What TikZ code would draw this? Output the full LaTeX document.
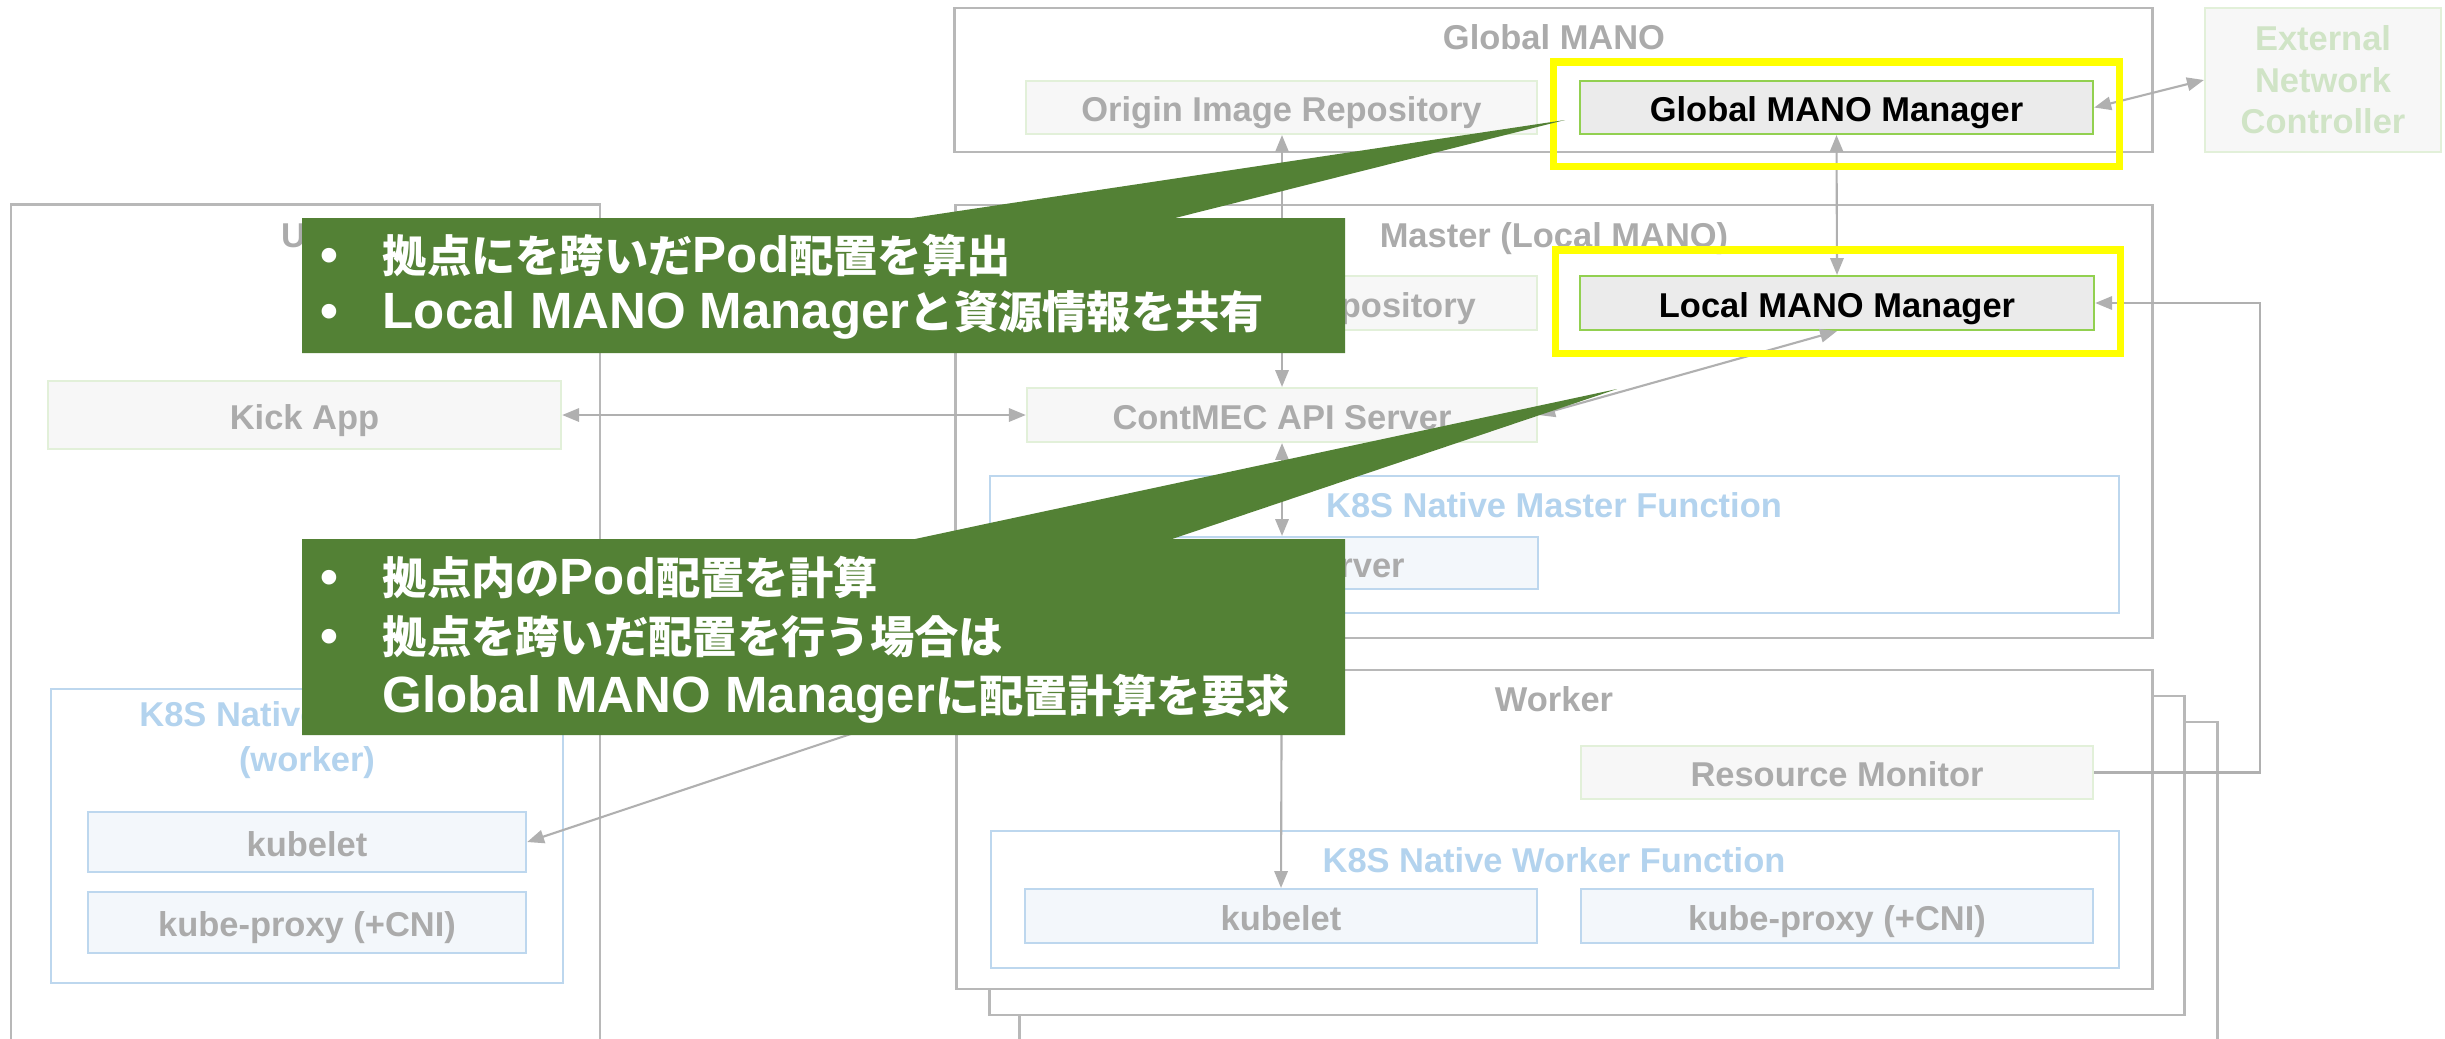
\documentclass[tikz,border=0pt]{standalone}
\usepackage{fontspec}
\setmainfont{Liberation Sans}
\newfontfamily\jpfont{Noto Sans CJK JP}
\usetikzlibrary{arrows.meta}
\definecolor{frameg}{HTML}{B8B8B8}
\definecolor{linegray}{HTML}{B0B0B0}
\definecolor{txtgray}{HTML}{ABABAB}
\definecolor{itemfill}{HTML}{F7F7F7}
\definecolor{itemborder}{HTML}{E2F0D9}
\definecolor{mgrfill}{HTML}{EBEBEB}
\definecolor{mgrborder}{HTML}{92D050}
\definecolor{blueb}{HTML}{BDD7EE}
\definecolor{bluefill}{HTML}{F3F7FB}
\definecolor{bluetxt}{HTML}{B3D3EE}
\definecolor{exttxt}{HTML}{D0E4C6}
\definecolor{hlyellow}{HTML}{FFFF00}
\definecolor{callgreen}{HTML}{538135}
\newcommand{\J}[1]{{\jpfont\fontsize{12.6}{15}\selectfont #1}}
\tikzset{
  outer/.style={draw=frameg, line width=0.75pt, fill=white, inner sep=0pt},
  lbl/.style={text height=0.8em, text depth=0pt},
  item/.style={draw=itemborder, line width=0.6pt, fill=itemfill, text=txtgray, inner sep=0pt, lbl},
  mgr/.style={draw=mgrborder, line width=0.6pt, fill=mgrfill, text=black, inner sep=0pt, lbl},
  kbox/.style={draw=blueb, line width=0.6pt, fill=white, inner sep=0pt},
  kitem/.style={draw=blueb, line width=0.6pt, fill=bluefill, text=txtgray, inner sep=0pt, lbl},
  ttl/.style={text=txtgray, inner sep=0pt, text height=0.72em, text depth=0pt},
  ktitle/.style={text=bluetxt, inner sep=0pt, align=center},
  hl/.style={draw=hlyellow, line width=2pt, inner sep=0pt},
  conn/.style={draw=linegray, line width=0.6pt},
  tip/.tip={Triangle[length=4.8pt,width=3.8pt]},
  bi/.style={conn, tip-tip},
  uni/.style={conn, -tip},
  callout/.style={fill=callgreen},
  ctext/.style={text=white, inner sep=0pt, font=\bfseries\fontsize{14.5}{17}\selectfont},
}
\begin{document}
\begin{tikzpicture}[x=0.01cm, y=-0.01cm, font=\bfseries\fontsize{9.8}{11.8}\selectfont]
\clip (0,0) rectangle (2445,1038);
\fill[white] (0,0) rectangle (2445,1038);

% ---------- Global MANO ----------
\node[outer, minimum width=11.97cm, minimum height=1.44cm] (gm) at (1553.5,80) {};
\node[ttl] (gmt) at (1554,37) {Global MANO};
\node[item, minimum width=5.11cm, minimum height=0.53cm] (oir) at (1281.5,107.5) {Origin Image Repository};
\node[mgr, minimum width=5.13cm, minimum height=0.53cm] (gmm) at (1836.5,107.5) {Global MANO Manager};
\node[draw=itemborder, line width=0.6pt, fill=itemfill, inner sep=0pt, minimum width=2.36cm, minimum height=1.44cm] (enc) at (2323,80) {};
\node[text=exttxt, align=center, inner sep=0pt, font=\bfseries\fontsize{9.8}{11.8}\selectfont] (enct) at (2323,80) {External\\Network\\Controller};

% ---------- UE ----------
\node[outer, minimum width=5.89cm, minimum height=8.60cm] (ue) at (305.5,635) {};
\node[ttl] (uet) at (305,235) {UE};
\node[item, minimum width=5.13cm, minimum height=0.68cm] (kick) at (304.5,415) {Kick App};
\node[kbox, minimum width=5.12cm, minimum height=2.94cm] (uk8s) at (307,836) {};
\node[ktitle, font=\bfseries\fontsize{9.8}{12.6}\selectfont] (uk8st) at (307,740) {K8S Native Function\\(worker)};
\node[kitem, minimum width=4.38cm, minimum height=0.60cm] (ukub) at (307,842) {kubelet};
\node[kitem, minimum width=4.38cm, minimum height=0.61cm] (ukp) at (307,922.5) {kube-proxy (+CNI)};

% ---------- Master ----------
\node[outer, minimum width=11.96cm, minimum height=4.33cm] (ms) at (1554,421.5) {};
\node[ttl] (mst) at (1554,235) {Master (Local MANO)};
\node[item, minimum width=5.11cm, minimum height=0.54cm] (lir) at (1281.5,303) {Local Image Repository};
\node[mgr, minimum width=5.14cm, minimum height=0.54cm] (lmm) at (1837,303) {Local MANO Manager};
\node[item, minimum width=5.10cm, minimum height=0.54cm] (api) at (1282,415) {ContMEC API Server};
\node[kbox, minimum width=11.29cm, minimum height=1.37cm] (k8sm) at (1554.5,544.5) {};
\node[ktitle] (k8smt) at (1554,505) {K8S Native Master Function};
\node[kitem, minimum width=5.12cm, minimum height=0.52cm] (kapi) at (1282,563) {kube-apiserver};

% ---------- Workers ----------
\node[outer, minimum width=11.97cm, minimum height=3.40cm] (w3) at (1618.5,892) {};
\node[outer, minimum width=11.94cm, minimum height=3.19cm] (w2) at (1587,855.5) {};
\node[outer, minimum width=11.95cm, minimum height=3.19cm] (w1) at (1554.5,829.5) {};
\node[ttl] (w1t) at (1554,699) {Worker};
\node[item, minimum width=5.12cm, minimum height=0.53cm] (rm) at (1837,772.5) {Resource Monitor};
\node[kbox, minimum width=11.28cm, minimum height=1.37cm] (k8sw) at (1555,899.5) {};
\node[ktitle] (k8swt) at (1554,860) {K8S Native Worker Function};
\node[kitem, minimum width=5.12cm, minimum height=0.54cm] (wkub) at (1281,916) {kubelet};
\node[kitem, minimum width=5.12cm, minimum height=0.54cm] (wkp) at (1837,916) {kube-proxy (+CNI)};

% ---------- connectors ----------
\draw[bi] (gmm.east) -- (enc.west);
\draw[bi] (oir.south -| api.north) -- (api.north);
\draw[bi] (gmm.south) -- (lmm.north);
\draw[bi] (lmm.south) -- (api.east);
\draw[bi] (kick.east) -- (api.west);
\draw[bi] (api.south) -- (kapi.north);
\draw[uni] (kapi.south) -- (wkub.north);
\draw[uni] (kapi.south) -- (ukub.east);
\coordinate (rmc) at (2260,772.5);
\draw[uni] (rm.east) -- (rmc) |- (lmm.east);

% ---------- highlights ----------
\node[hl, minimum width=5.65cm, minimum height=1.04cm] (ygm) at (1836.5,114) {};
\node[hl, minimum width=5.64cm, minimum height=1.03cm] (ylm) at (1838,301.5) {};

% ---------- callouts ----------
\fill[callout] (302,218) -- (912,218) -- (1565,120) -- (1175,218) -- (1345,218) -- (1345,353) -- (302,353) -- cycle;
\node[ctext, anchor=base] (c1b1) at (329,272) {•};
\node[ctext, anchor=base west] (c1l1) at (382,272) {\J{拠点にを跨いだ}Pod\J{配置を算出}};
\node[ctext, anchor=base] (c1b2) at (329,328) {•};
\node[ctext, anchor=base west] (c1l2) at (382,328) {Local MANO Manager\J{と資源情報を共有}};

\fill[callout] (302,539) -- (915,539) -- (1617,389) -- (1172,539) -- (1345,539) -- (1345,735) -- (302,735) -- cycle;
\node[ctext, anchor=base] (c2b1) at (329,594) {•};
\node[ctext, anchor=base west] (c2l1) at (382,594) {\J{拠点内の}Pod\J{配置を計算}};
\node[ctext, anchor=base] (c2b2) at (329,653) {•};
\node[ctext, anchor=base west] (c2l2) at (382,653) {\J{拠点を跨いだ配置を行う場合は}};
\node[ctext, anchor=base west] (c2l3) at (382,712) {Global MANO Manager\J{に配置計算を要求}};
\end{tikzpicture}
\end{document}
